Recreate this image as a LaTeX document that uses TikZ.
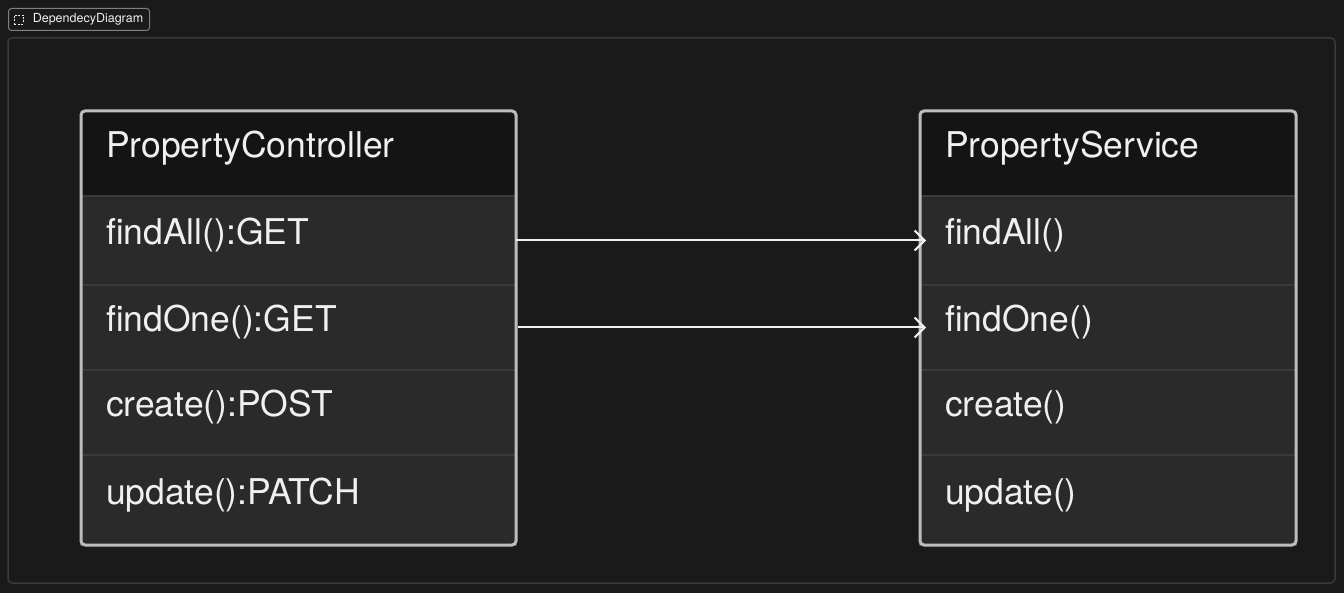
\documentclass[tikz,border=0pt]{standalone}
\usepackage{fontspec}
\setmainfont{TeX Gyre Heros}
\usetikzlibrary{positioning,arrows.meta}
\definecolor{bgcol}{HTML}{1A1A1A}
\definecolor{headcol}{HTML}{141414}
\definecolor{rowcol}{HTML}{2A2A2A}
\definecolor{sepcol}{HTML}{3A3A3A}
\definecolor{edgecol}{HTML}{BDBDBD}
\definecolor{txtcol}{HTML}{F0F0F0}
\tikzset{
  cell/.style={anchor=north west, inner xsep=25pt, inner ysep=0pt, outer sep=0pt, align=left,
    text=txtcol, font=\fontsize{35.5}{40}\selectfont, text height=26pt, text depth=18pt, minimum height=87pt},
  head/.style={cell, fill=headcol, minimum height=85pt},
  row/.style={cell, fill=rowcol, draw=sepcol, line width=1.5pt},
  frame/.style={draw=edgecol, line width=3pt, rounded corners=4pt},
  call/.style={draw=txtcol, line width=2pt, -{Straight Barb[length=10pt,width=20pt,line width=2pt]}}
}
\begin{document}
\begin{tikzpicture}[x=1pt,y=-1pt, node distance=0pt]
\fill[bgcol] (0,0) rectangle (1344,593);
\useasboundingbox (0,0) rectangle (1344,593);
% outer diagram area
\draw[sepcol, line width=1.5pt, rounded corners=4pt] (8,38) rectangle (1335,583);
\node[draw=gray, line width=1pt, rounded corners=3pt, anchor=north west, minimum width=141pt, minimum height=22pt,
  inner ysep=0pt, inner xsep=0pt, text=txtcol, font=\fontsize{12.5}{13}\selectfont] (tag) at (8,8) {\hspace*{18pt}DependecyDiagram};
\node[draw=txtcol, dashed, dash pattern=on 2pt off 1.5pt, minimum size=9pt, inner sep=0pt, right=6pt of tag.west] (tagicon) {};
% PropertyController
\node[head, text width=385pt] (pchead) at (81,111) {PropertyController};
\node[row, text width=385pt, below=of pchead.south west, anchor=north west, minimum height=89pt] (pc1) {findAll():GET};
\node[row, text width=385pt, below=of pc1.south west, anchor=north west, minimum height=85pt] (pc2) {findOne():GET};
\node[row, text width=385pt, below=of pc2.south west, anchor=north west, minimum height=85pt] (pc3) {create():POST};
\node[row, text width=385pt, below=of pc3.south west, anchor=north west, minimum height=90pt] (pc4) {update():PATCH};
\draw[frame] (pchead.north west) rectangle (pc4.south east);
% PropertyService
\node[head, text width=326pt] (pshead) at (920,111) {PropertyService};
\node[row, text width=326pt, below=of pshead.south west, anchor=north west, minimum height=89pt] (ps1) {findAll()};
\node[row, text width=326pt, below=of ps1.south west, anchor=north west, minimum height=85pt] (ps2) {findOne()};
\node[row, text width=326pt, below=of ps2.south west, anchor=north west, minimum height=85pt] (ps3) {create()};
\node[row, text width=326pt, below=of ps3.south west, anchor=north west, minimum height=90pt] (ps4) {update()};
\draw[frame] (pshead.north west) rectangle (ps4.south east);
% dependencies
\draw[call] (pc1.east) -- ([xshift=6pt]ps1.west);
\draw[call] ([xshift=2pt]pc2.east) -- ([xshift=6pt]ps2.west);
\end{tikzpicture}
\end{document}
